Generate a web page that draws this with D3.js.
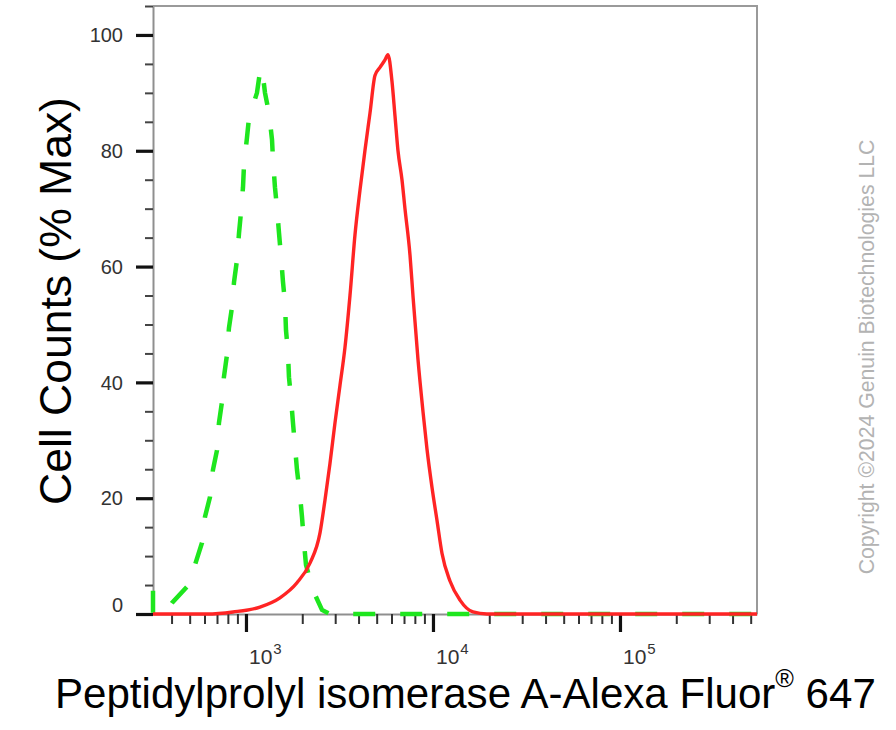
<!DOCTYPE html>
<html><head><meta charset="utf-8">
<script src="https://cdn.jsdelivr.net/npm/d3@7"></script>
<style>body{margin:0;background:#fff}svg{display:block}</style>
</head><body>
<svg id="chart" width="896" height="730"></svg>
<script>
// ---- data (x = fluorescence intensity, y = % of max cell count) ----
const isotypeControl = [
  [318.3,4],[318.3,0],[369,0.2],[402,1.9],[484,4.7],[534,8.5],[582,12.3],[604,16.8],[642,20.2],
  [666,24.9],[700,28.3],[717,33],[744,36.6],[762,40.9],[791,44.7],[811,49.4],[842,53],[863,57.3],
  [895,61.1],[918,65.8],[940,69.3],[964,73.7],[976,77.5],[1012,82.2],[1038,85.7],[1095,88],
  [1145,90],[1188,93.6],[1218,94.3],[1264,90],[1328,86.5],[1378,81.9],[1395,78.4],[1429,73.7],
  [1465,70.1],[1502,65.8],[1539,61.8],[1578,57.3],[1617,53.7],[1637,49],[1676,45.4],[1698,40.9],
  [1741,37.3],[1784,33],[1874,24.9],[1945,20.5],[1993,16.8],[2043,12.3],[2094,8.5],[2282,4.1],
  [2550,0.7],[2813,0],[540400,0]
];
const antibodyStained = [
  [318.3,0],[619,0],[852,0.35],[1188,1.2],[1520,2.8],[1874,5.4],[2199,8.8],[2488,14],[2646,19.7],
  [2813,26],[2992,33],[3183,39.5],[3383,46],[3599,55],[3828,65.5],[4071,73.2],[4329,80.1],
  [4604,86.5],[4896,93],[5207,94.4],[5538,95.7],[5746,96.6],[6036,92],[6265,86],[6500,80],
  [6827,75],[7083,70],[7535,62],[7816,55],[8312,44],[8840,35],[9288,28.5],[9878,21.9],
  [10505,16.2],[11172,10.5],[12328,5.7],[13946,2.4],[16368,0.35],[19450,0],[540400,0]
];
const xDomain = [318.3, 540400];
const yDomain = [0, 105];
const yMajorTicks = [0, 20, 40, 60, 80, 100];
const yMinorTicks = [5,10,15,25,30,35,45,50,55,65,70,75,85,90,95,105];
const xMajorTicks = [1e3, 1e4, 1e5];
const xMajorExponents = ["3", "4", "5"];
const xMinorTicks = [400,500,600,700,800,900,2000,3000,4000,5000,6000,7000,8000,9000,
  20000,30000,40000,50000,60000,70000,80000,90000,200000,300000,400000,500000];
const yTitle = "Cell Counts (% Max)";
const xTitleMain = "Peptidylprolyl isomerase A-Alexa Fluor";
const xTitleMark = "®";
const xTitleEnd = " 647";
const copyright = "Copyright ©2024 Genuin Biotechnologies LLC";

// ---- drawing ----
const FONT = "'Liberation Sans', Arial, Helvetica, sans-serif";
const svg = d3.select("#chart");
const x = d3.scaleLog().domain(xDomain).range([153, 757]);
const y = d3.scaleLinear().domain(yDomain).range([614, 6]);
const [x0, x1] = x.range();
const [yb, yt] = y.range();

// frame (top and right)
svg.append("path")
  .attr("d", `M${x0},${yt}H${x1}V${yb}`)
  .attr("fill", "none").attr("stroke", "#9a9a9a").attr("stroke-width", 2);

function clean(g, color, width, domain) {
  g.attr("font-family", null).attr("font-size", null);
  g.select(".domain").attr("stroke", domain ? "#8f8f8f" : "none").attr("stroke-width", 2);
  g.selectAll(".tick line").attr("stroke", color).attr("stroke-width", width);
  g.selectAll(".tick text").remove();
}

// y axis
const gyMinor = svg.append("g").attr("transform", `translate(${x0},0)`)
  .call(d3.axisLeft(y).tickValues(yMinorTicks).tickSize(8).tickSizeOuter(0));
clean(gyMinor, "#444", 2, true);
const gyMajor = svg.append("g").attr("transform", `translate(${x0},0)`)
  .call(d3.axisLeft(y).tickValues(yMajorTicks).tickSize(17).tickSizeOuter(0));
clean(gyMajor, "#111", 3.2, false);
svg.append("g").selectAll("text").data(yMajorTicks).join("text")
  .attr("x", x0 - 30)
  .attr("y", d => y(d) + (d === 0 ? -9 : 0))
  .attr("dy", "0.36em")
  .attr("text-anchor", "end")
  .attr("font-family", FONT).attr("font-size", 20).attr("fill", "#333")
  .text(d => d);

// x axis
const gxMinor = svg.append("g").attr("transform", `translate(0,${yb})`)
  .call(d3.axisBottom(x).tickValues(xMinorTicks).tickSize(10).tickSizeOuter(0));
clean(gxMinor, "#333", 2, true);
const gxMajor = svg.append("g").attr("transform", `translate(0,${yb})`)
  .call(d3.axisBottom(x).tickValues(xMajorTicks).tickSize(18).tickSizeOuter(0));
clean(gxMajor, "#111", 3.2, false);
const xLab = svg.append("g");
xMajorTicks.forEach((d, i) => {
  const base = xLab.append("text")
    .attr("x", x(d) + 3).attr("y", yb + 50)
    .attr("font-family", FONT).attr("font-size", 21).attr("fill", "#333")
    .text("10");
  const w = base.node().getComputedTextLength();
  xLab.append("text")
    .attr("x", x(d) + 3 + w + 1).attr("y", yb + 40)
    .attr("font-family", FONT).attr("font-size", 15).attr("fill", "#333")
    .text(xMajorExponents[i]);
});

// curves
svg.append("path").datum(isotypeControl)
  .attr("d", d3.line().x(d => x(d[0])).y(d => y(d[1])).curve(d3.curveLinear))
  .attr("fill", "none").attr("stroke", "#1ee61e").attr("stroke-width", 4.5)
  .attr("stroke-dasharray", "22,25");
svg.append("path").datum(antibodyStained)
  .attr("d", d3.line().x(d => x(d[0])).y(d => y(d[1])).curve(d3.curveMonotoneX))
  .attr("fill", "none").attr("stroke", "#ff2424").attr("stroke-width", 3.4)
  .attr("stroke-linejoin", "round");

// titles
function fit(sel, target) {
  const w = sel.node().getComputedTextLength();
  const fs = parseFloat(sel.attr("font-size"));
  sel.attr("font-size", fs * target / w);
}
const yt1 = svg.append("text")
  .attr("transform", "translate(71,301) rotate(-90)")
  .attr("text-anchor", "middle")
  .attr("font-family", FONT).attr("font-size", 44).attr("fill", "#000")
  .text(yTitle);
fit(yt1, 408);

const xt = svg.append("text")
  .attr("x", 55).attr("y", 708)
  .attr("font-family", FONT).attr("font-size", 42).attr("fill", "#000");
xt.append("tspan").text(xTitleMain);
xt.append("tspan").attr("font-size", "0.6em").attr("dy", "-0.85em").text(xTitleMark);
xt.append("tspan").attr("dy", "0.51em").text(xTitleEnd);
{
  const w = xt.node().getComputedTextLength();
  xt.attr("font-size", 42 * 821 / w);
}

const cp = svg.append("text")
  .attr("transform", "translate(874,357) rotate(-90)")
  .attr("text-anchor", "middle")
  .attr("font-family", FONT).attr("font-size", 18).attr("fill", "#b3b3b3")
  .text(copyright);
fit(cp, 435);
</script>
</body></html>
